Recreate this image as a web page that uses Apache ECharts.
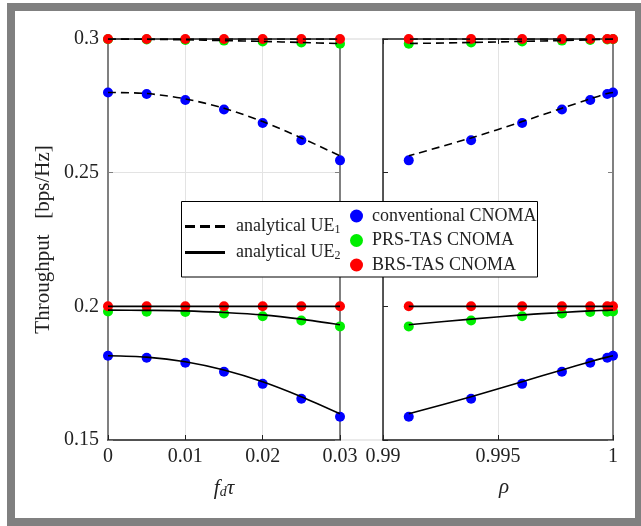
<!DOCTYPE html>
<html>
<head>
<meta charset="utf-8">
<script src="https://cdn.jsdelivr.net/npm/echarts@6/dist/echarts.min.js"></script>
<style>
html,body{margin:0;padding:0;background:#fff;}
#c{width:641px;height:526px;}
</style>
</head>
<body>
<div id="c"></div>
<script>
// ---- data ----
var fdTau = [0, 0.005, 0.01, 0.015, 0.02, 0.025, 0.03];
var rho   = [1, 0.99975, 0.99901, 0.99778, 0.99605, 0.99383, 0.99112];

// simulated (markers)
var convUE1 = [0.2800, 0.2794, 0.2772, 0.2736, 0.2686, 0.2621, 0.2546];
var prsUE1  = [0.2999, 0.2998, 0.2996, 0.2994, 0.2991, 0.2987, 0.2982];
var brsUE1  = [0.3000, 0.3000, 0.3000, 0.3000, 0.3000, 0.3000, 0.3000];
var convUE2 = [0.1815, 0.1808, 0.1789, 0.1755, 0.1710, 0.1654, 0.1587];
var prsUE2  = [0.1981, 0.1980, 0.1979, 0.1973, 0.1963, 0.1947, 0.1925];
var brsUE2  = [0.2000, 0.2000, 0.2000, 0.2000, 0.2000, 0.2000, 0.2000];

// analytical (lines)
var anConvUE1 = [0.2800, 0.2796, 0.2776, 0.2741, 0.2691, 0.2630, 0.2563];
var anPrsUE1  = [0.3000, 0.2999, 0.2997, 0.2994, 0.2991, 0.2987, 0.2983];
var anBrsUE1  = [0.3000, 0.3000, 0.3000, 0.3000, 0.3000, 0.3000, 0.3000];
var anConvUE2 = [0.1815, 0.1810, 0.1793, 0.1762, 0.1718, 0.1662, 0.1598];
var anPrsUE2  = [0.1986, 0.1985, 0.1983, 0.1977, 0.1968, 0.1952, 0.1931];
var anBrsUE2  = [0.2000, 0.2000, 0.2000, 0.2000, 0.2000, 0.2000, 0.2000];

var yTickLabels  = {'0.15':'0.15','0.2':'0.2','0.25':'0.25','0.3':'0.3'};
var xTickLeft    = {'0':'0','0.01':'0.01','0.02':'0.02','0.03':'0.03'};
var xTickRight   = {'0.99':'0.99','0.995':'0.995','1':'1'};

// ---- styling ----
var FONT = 'Liberation Serif';
var GRAYAX = '#808080';
var BLACKAX = '#222';
var GRID = '#e3e3e3';

function pairs(xs, ys){ return xs.map(function(x,i){ return [x, ys[i]]; }); }
function key(v){ return String(+(+v).toFixed(4)); }

function xAx(gi, min, max, itv, labels, pos, show, color){
  return {
    type:'value', gridIndex:gi, min:min, max:max, interval:itv, position:pos,
    axisLine:{show:true, onZero:false, lineStyle:{color:color, width:1.5}},
    axisTick:{show:true, inside:true, length:5, lineStyle:{color:color}},
    axisLabel:{show:show, margin:7, fontFamily:FONT, fontSize:20, color:'#222',
      formatter:function(v){ return labels[key(v)] !== undefined ? labels[key(v)] : ''; }},
    splitLine:{show:show, lineStyle:{color:GRID, width:1}}
  };
}
function yAx(gi, pos, show, color, w){
  return {
    type:'value', gridIndex:gi, min:0.15, max:0.3, interval:0.05, position:pos,
    axisLine:{show:true, onZero:false, lineStyle:{color:color, width:w}},
    axisTick:{show:true, inside:true, length:5, lineStyle:{color:color}},
    axisLabel:{show:show, margin:9, fontFamily:FONT, fontSize:20, color:'#222',
      formatter:function(v){ return yTickLabels[key(v)] || ''; }},
    splitLine:{show:show, lineStyle:{color:GRID, width:1}}
  };
}

var xAxes = [
  Object.assign(xAx(0, 0, 0.03, 0.01, xTickLeft, 'bottom', true, BLACKAX), {
    name:'{i|f}{s|d}{i|τ}', nameLocation:'middle', nameGap:37,
    nameTextStyle:{rich:{
      i:{fontFamily:FONT, fontStyle:'italic', fontSize:21, color:'#222'},
      s:{fontFamily:FONT, fontStyle:'italic', fontSize:14, color:'#222', padding:[8,0,0,0]}
    }}
  }),
  xAx(0, 0, 0.03, 0.01, xTickLeft, 'top', false, BLACKAX),
  Object.assign(xAx(1, 0.99, 1, 0.005, xTickRight, 'bottom', true, BLACKAX), {
    name:'ρ', nameLocation:'middle', nameGap:37,
    nameTextStyle:{fontFamily:FONT, fontStyle:'italic', fontSize:21, color:'#222', padding:[0,0,0,12]}
  }),
  xAx(1, 0.99, 1, 0.005, xTickRight, 'top', false, BLACKAX),
  {type:'value', gridIndex:2, min:0, max:1, show:false}
];
var yAxes = [
  Object.assign(yAx(0, 'left', true, GRAYAX, 2), {
    name:'Throughput   [bps/Hz]', nameLocation:'middle', nameGap:54,
    nameTextStyle:{fontFamily:FONT, fontSize:21, color:'#222'}
  }),
  yAx(0, 'right', false, GRAYAX, 2),
  yAx(1, 'left', false, BLACKAX, 1.5),
  yAx(1, 'right', false, GRAYAX, 2),
  {type:'value', gridIndex:2, min:0.15, max:0.3, interval:0.15,
   axisLine:{show:false}, axisTick:{show:false}, axisLabel:{show:false},
   splitLine:{show:true, lineStyle:{color:GRID, width:1.5}}}
];

var series = [];
function addPanel(xs, xi, yi){
  var sc = [
    ['conventional CNOMA', '#0000ff', convUE1, convUE2],
    ['PRS-TAS CNOMA', '#00ee00', prsUE1, prsUE2],
    ['BRS-TAS CNOMA', '#ff0000', brsUE1, brsUE2]
  ];
  sc.forEach(function(s){
    series.push({
      type:'scatter', name:s[0], xAxisIndex:xi, yAxisIndex:yi,
      symbol:'circle', symbolSize:10, z:2,
      itemStyle:{color:s[1], opacity:1},
      data: pairs(xs, s[2]).concat(pairs(xs, s[3])),
      silent:true
    });
  });
  [anConvUE1, anPrsUE1, anBrsUE1].forEach(function(arr){
    series.push({type:'line', name:'analytical UE1', xAxisIndex:xi, yAxisIndex:yi,
      symbol:'none', smooth:0.3, z:3, silent:true,
      lineStyle:{color:'#000', width:1.6, type:[8,5]}, itemStyle:{color:'#000'},
      data:pairs(xs, arr)});
  });
  [anConvUE2, anPrsUE2, anBrsUE2].forEach(function(arr){
    series.push({type:'line', name:'analytical UE2', xAxisIndex:xi, yAxisIndex:yi,
      symbol:'none', smooth:0.3, z:3, silent:true,
      lineStyle:{color:'#000', width:1.6, type:'solid'}, itemStyle:{color:'#000'},
      data:pairs(xs, arr)});
  });
}
addPanel(fdTau, 0, 0);
addPanel(rho, 2, 2);

var DASH_ICON  = 'path://M0,0H10V3H0Z M15,0H25V3H15Z M30,0H40V3H30Z';
var SOLID_ICON = 'path://M0,0H40V3H0Z';

var chart = echarts.init(document.getElementById('c'), null, {renderer:'canvas'});
chart.setOption({
  backgroundColor:'#fff',
  animation:false,
  grid:[
    {left:108, top:39, width:232, height:401},
    {left:383, top:39, width:230, height:401},
    {left:108, top:39, width:505, height:401, z:0}
  ],
  xAxis:xAxes,
  yAxis:yAxes,
  legend:[
    {
      data:[{name:'analytical UE1', icon:DASH_ICON}, {name:'analytical UE2', icon:SOLID_ICON}],
      orient:'vertical', left:185, top:217, itemGap:7, padding:0,
      itemWidth:40, itemHeight:3, z:5, selectedMode:false,
      itemStyle:{color:'#000', borderWidth:0},
      textStyle:{fontFamily:FONT, fontSize:18, color:'#222', padding:[0,0,0,6],
        rich:{
          n:{fontFamily:FONT, fontSize:18, color:'#222', lineHeight:19},
          s:{fontFamily:FONT, fontSize:12, color:'#222', padding:[7,0,0,0], lineHeight:19}
        }},
      formatter:function(n){ return n === 'analytical UE1' ? '{n|analytical UE}{s|1}' : '{n|analytical UE}{s|2}'; }
    },
    {
      data:['conventional CNOMA','PRS-TAS CNOMA','BRS-TAS CNOMA'],
      orient:'vertical', left:350, top:207, itemGap:6.5, padding:0,
      itemWidth:13, itemHeight:13, icon:'circle', z:5, selectedMode:false,
      textStyle:{fontFamily:FONT, fontSize:18, color:'#222', padding:[0,0,0,4]}
    }
  ],
  graphic:[
    {type:'rect', z:4, shape:{x:181.5, y:201.5, width:356, height:75.5},
     style:{fill:'#fff', stroke:'#000', lineWidth:1}},
    {type:'rect', z:10, shape:{x:11, y:7, width:628, height:515},
     style:{fill:'none', stroke:'#808080', lineWidth:8}, silent:true}
  ],
  series:series
});
</script>
</body>
</html>
